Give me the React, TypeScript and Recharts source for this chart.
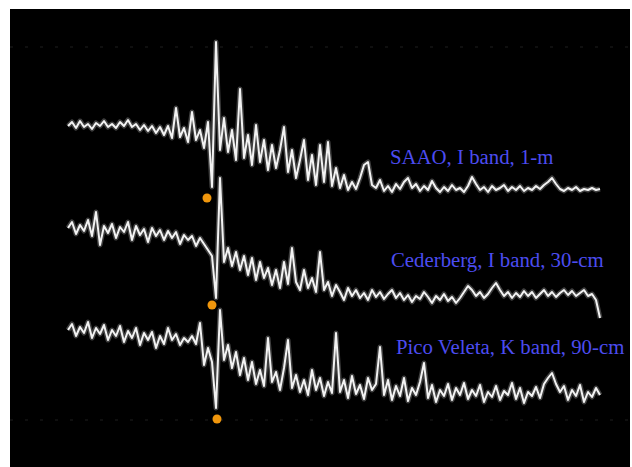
import React from 'react';
import { ComposedChart, Line, XAxis, YAxis, ReferenceDot, ReferenceLine } from 'recharts';

// normalized counts, one sample per time step (pre-occultation level ~100)
const saao = [
  99, 103, 97, 104, 98, 101, 96, 102, 99, 104,
  98, 101, 97, 103, 99, 105, 98, 101, 95, 100,
  94, 99, 92, 98, 90, 99, 87, 117, 88, 97,
  83, 113, 85, 95, 77, 103, 38, 183, 75, 107,
  73, 95, 65, 136, 67, 90, 60, 100, 63, 85,
  55, 80, 57, 75, 98, 53, 75, 47, 65, 85,
  45, 70, 40, 80, 43, 83, 39, 57, 37, 50,
  35, 43, 36, 47, 60, 63, 40, 37, 45, 34,
  39, 33, 41, 36, 43, 47, 37, 41, 34, 39,
  35, 44, 37, 33, 38, 34, 40, 35, 37, 33,
  39, 48, 41, 35, 38, 33, 39, 35, 37, 40,
  34, 38, 35, 39, 34, 37, 35, 39, 36, 40,
  43, 47, 41, 36, 34, 37, 35, 38, 34, 36,
  35, 37, 35, 36,
];

const cederberg = [
  100, 106, 94, 103, 97, 108, 92, 116, 83, 102,
  95, 104, 90, 101, 96, 106, 88, 102, 93, 99,
  86, 100, 92, 98, 88, 97, 90, 96, 84, 93,
  88, 92, 82, 90, 84, 78, 72, 30, 150, 66,
  80, 62, 76, 58, 72, 53, 70, 48, 66, 50,
  60, 43, 58, 40, 66, 44, 80, 46, 38, 58,
  40, 50, 36, 76, 38, 46, 32, 43, 36, 28,
  40, 32, 38, 30, 35, 28, 38, 31, 36, 29,
  34, 38, 30, 35, 28, 33, 26, 32, 29, 36,
  31, 25, 32, 28, 34, 27, 31, 25, 30, 36,
  42, 38, 32, 36, 30, 34, 40, 45, 38, 32,
  36, 30, 35, 31, 37, 32, 36, 30, 34, 38,
  32, 36, 31, 35, 38, 33, 37, 32, 35, 38,
  32, 34, 28, 10,
];

const picoVeleta = [
  100, 106, 94, 103, 97, 108, 92, 102, 96, 105,
  90, 100, 94, 104, 88, 99, 92, 102, 85, 97,
  90, 98, 82, 94, 86, 102, 90, 96, 85, 92,
  88, 94, 86, 107, 65, 82, 68, 22, 120, 70,
  85, 62, 78, 55, 72, 50, 68, 46, 60, 44,
  92, 48, 58, 40, 62, 90, 42, 55, 38, 50,
  35, 60, 40, 52, 34, 48, 37, 97, 38, 50,
  32, 54, 36, 45, 31, 52, 40, 46, 83, 35,
  50, 30, 44, 34, 52, 29, 42, 35, 48, 67,
  32, 45, 28, 40, 34, 46, 30, 42, 35, 47,
  31, 40, 34, 45, 28, 38, 33, 44, 30, 39,
  35, 47, 31, 42, 27, 38, 34, 43, 32, 46,
  52, 57, 46, 38, 44, 30, 40, 34, 45, 28,
  38, 33, 42, 35,
];

const labels = ['SAAO, I band, 1-m', 'Cederberg, I band, 30-cm', 'Pico Veleta, K band, 90-cm'];
// vertical stacking of the three traces
const offsets = [242, 139, 37];
// disappearance marks (time step, normalized level)
const markTimes = [34.75, 36, 37.25];
const markLevels = [27, 23, 11];

const data = saao.map((v, i) => ({
  t: i,
  saao: v + offsets[0],
  ced: cederberg[i] + offsets[1],
  pico: picoVeleta[i] + offsets[2],
}));

const keys = ['saao', 'ced', 'pico'];

const W = 620;
const H = 458;

export default function App() {
  return (
    <div style={{ position: 'absolute', left: 0, top: 0, width: 632, height: 467, background: '#fff' }}>
      <div style={{ position: 'absolute', left: 10, top: 9, width: W, height: H, background: '#000' }}>
        <ComposedChart width={W} height={H} data={data} margin={{ top: 0, right: 0, bottom: 0, left: 0 }}>
          <XAxis dataKey="t" type="number" domain={[-14.5, 140.5]} hide />
          <YAxis type="number" domain={[0, H]} hide />
          <ReferenceLine y={420} stroke="#1f1f1f" strokeDasharray="3 12" />
          <ReferenceLine y={47} stroke="#1f1f1f" strokeDasharray="3 12" />
          {/* soft halo so the noisy traces read as a fuzzy band */}
          {keys.map((k) => (
            <Line
              key={k + '-halo'}
              dataKey={k}
              type="linear"
              stroke="#cfcfcf"
              strokeOpacity={0.3}
              strokeWidth={5}
              strokeLinejoin="round"
              dot={false}
              isAnimationActive={false}
            />
          ))}
          {keys.map((k) => (
            <Line
              key={k}
              dataKey={k}
              type="linear"
              stroke="#f2f2f2"
              strokeWidth={2}
              strokeLinejoin="round"
              dot={false}
              isAnimationActive={false}
            />
          ))}
          {markTimes.map((t, k) => (
            <ReferenceDot
              key={k}
              x={t}
              y={markLevels[k] + offsets[k]}
              r={4.5}
              fill="#f0960c"
              stroke="none"
            />
          ))}
        </ComposedChart>
      </div>
      <svg width={632} height={467} style={{ position: 'absolute', left: 0, top: 0, pointerEvents: 'none' }}>
        {labels.map((s, k) => (
          <text
            key={s}
            x={[390, 391, 396][k]}
            y={[164, 267, 354][k]}
            fill="#4c4cf0"
            fontFamily="'Liberation Serif', 'Times New Roman', serif"
            fontSize={20.8}
          >
            {s}
          </text>
        ))}
      </svg>
    </div>
  );
}
